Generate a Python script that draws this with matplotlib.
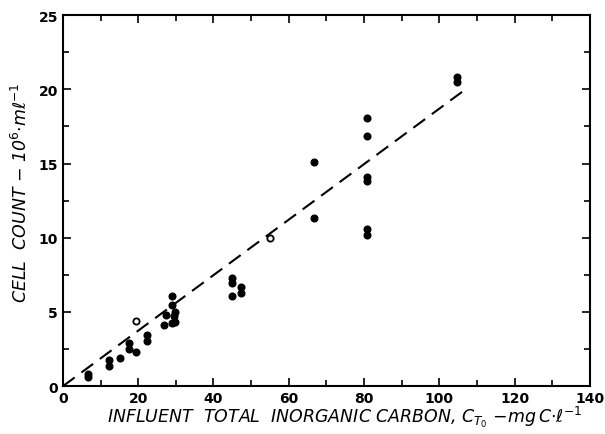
import numpy as np
import matplotlib
matplotlib.use("Agg")
import matplotlib.pyplot as plt
from matplotlib.ticker import MultipleLocator

# cell count vs influent total inorganic carbon
carbon = [6.7, 6.7, 12.3, 12.3, 15.1, 17.6, 17.6, 19.4, 22.4, 22.4,
          26.8, 27.4, 29.0, 28.9, 29.5, 28.9, 29.8, 29.8,
          44.8, 44.8, 45.0, 47.2, 47.2, 66.7, 66.8,
          80.9, 80.9, 80.9, 80.9, 80.9, 80.9, 104.8, 104.8]
cells = [0.85, 0.6, 1.75, 1.35, 1.9, 2.9, 2.5, 2.3, 3.45, 3.05,
         4.15, 4.8, 6.05, 5.5, 4.7, 4.25, 5.0, 4.35,
         7.3, 6.95, 6.05, 6.65, 6.3, 15.1, 11.3,
         18.1, 16.85, 14.1, 13.85, 10.6, 10.2, 20.8, 20.5]
open_carbon = [19.5, 55.0]
open_cells = [4.4, 10.0]

# fitted line through origin
fit_x = [0, 107.5]
fit_y = [0, 20.1]

fig = plt.figure(figsize=(6.05, 4.35), dpi=100)
ax = fig.add_axes([0.104, 0.110, 0.871, 0.853])

ax.plot(fit_x, fit_y, color="black", lw=1.5, dashes=(7, 4))
ax.plot(carbon, cells, "o", color="black", ms=4.8)
ax.plot(open_carbon, open_cells, "o", mfc="white", mec="black", ms=4.5, mew=1.3)

ax.set_xlim(0, 140)
ax.set_ylim(0, 25)
ax.xaxis.set_major_locator(MultipleLocator(20))
ax.xaxis.set_minor_locator(MultipleLocator(10))
ax.yaxis.set_major_locator(MultipleLocator(5))
ax.yaxis.set_minor_locator(MultipleLocator(2.5))
ax.tick_params(which="both", direction="in", top=True, right=True, width=1.2,
               labelsize=10)
ax.tick_params(which="major", length=6)
ax.tick_params(which="minor", length=4)
for lab in ax.get_xticklabels() + ax.get_yticklabels():
    lab.set_fontweight("bold")
for sp in ax.spines.values():
    sp.set_linewidth(1.5)

ax.set_xlabel(r"INFLUENT  TOTAL  INORGANIC CARBON, $C_{T_0}$ $-$mg$\,$C$\cdot$ℓ$^{-1}$",
              fontsize=12.5, style="italic")
ax.set_ylabel(r"CELL  COUNT $-$ 10$^6$$\cdot$mℓ$^{-1}$",
              fontsize=12.5, style="italic")
ax.xaxis.set_label_coords(0.535, -0.048)
ax.yaxis.set_label_coords(-0.06, 0.525)

fig.savefig("out.png", dpi=100)
